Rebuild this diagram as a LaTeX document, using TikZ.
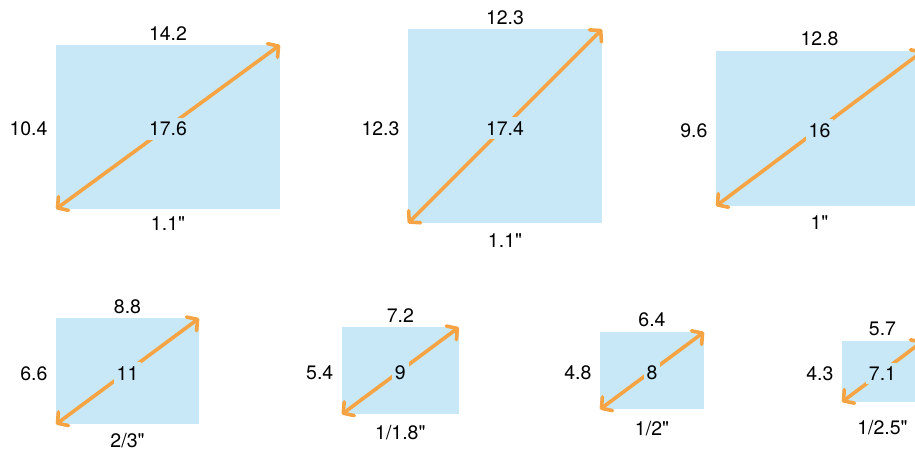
\documentclass[tikz,border=0pt]{standalone}
\usepackage{fontspec}
\setmainfont{TeX Gyre Heros}[Ligatures=TeXOff]
\usepackage{tikz}
\usetikzlibrary{arrows.meta,positioning}
\definecolor{sensorblue}{HTML}{C8E8F8}
\definecolor{diagorange}{HTML}{F6A443}

\begin{document}
\begin{tikzpicture}[x=1pt, y=-1pt,
  every node/.style={font=\fontsize{19.5}{23}\selectfont, inner sep=0pt, outer sep=0pt},
  sensor/.style={fill=sensorblue},
  diag/.style={draw=diagorange, line width=3.6pt,
    {Straight Barb[length=7.5pt,width=17pt,round]}-{Straight Barb[length=7.5pt,width=17pt,round]}},
  diaglabel/.style={fill=sensorblue, inner xsep=3pt, inner ysep=4pt, yshift=-2pt},
  sidelabel/.style={yshift=-2pt}]
  \clip (0,0) rectangle (915,451);
  \foreach \n/\cx/\cy/\w/\h/\wl/\hl/\dl/\fmt/\g in {
      a/168/127/224/164/14.2/10.4/17.6/1.1"/8,
      b/505/126.3/194/194/12.3/12.3/17.4/1.1"/10,
      c/819.5/128.5/207/155/12.8/9.6/16/1"/10,
      d/127.5/371.3/143/106/8.8/6.6/11/{2/3"}/9,
      e/400.3/370.8/117/87/7.2/5.4/9/{1/1.8"}/10.7,
      f/652/370.7/104/77.3/6.4/4.8/8/{1/2"}/12.4,
      g/882.5/371.5/81/61/5.7/4.3/7.1/{1/2.5"}/18}{
    \node[sensor, minimum width=\w pt, minimum height=\h pt] (\n) at (\cx,\cy) {};
    \node[above=5pt of \n] (\n-w) {\wl};
    \node[sidelabel, left=8.5pt of \n] (\n-h) {\hl};
    \node[below=\g pt of \n] (\n-f) {\fmt};
    \draw[diag] (\n.south west) -- (\n.north east);
    \node[diaglabel] (\n-d) at (\n) {\dl};
  }
\end{tikzpicture}
\end{document}
